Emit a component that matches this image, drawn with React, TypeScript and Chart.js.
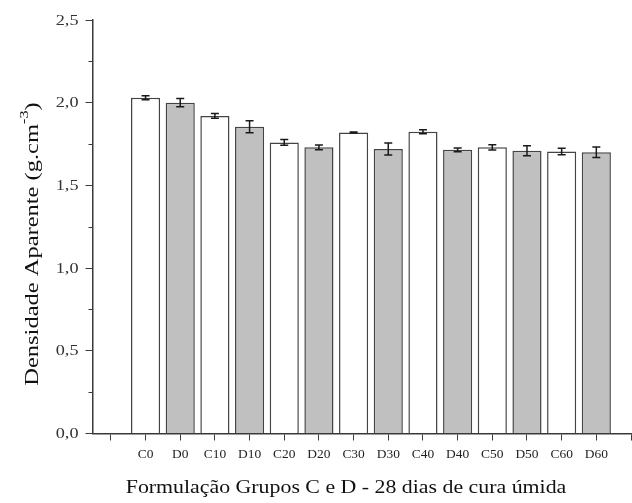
import React, { useEffect, useRef } from "react";
import { Chart, registerables } from "chart.js";

Chart.register(...registerables);

// Formulations (groups C and D), apparent density after 28 days of wet curing
const categories = ["C0", "D0", "C10", "D10", "C20", "D20", "C30", "D30", "C40", "D40", "C50", "D50", "C60", "D60"];
const density = [2.03, 2.0, 1.92, 1.855, 1.76, 1.73, 1.82, 1.72, 1.825, 1.715, 1.73, 1.71, 1.705, 1.7];
const densityError = [0.012, 0.025, 0.014, 0.036, 0.017, 0.014, 0.003, 0.036, 0.012, 0.011, 0.016, 0.03, 0.019, 0.032];
const yTicks = [0, 0.5, 1.0, 1.5, 2.0, 2.5];
const yMinorTicks = [0.25, 0.75, 1.25, 1.75, 2.25];

const AXIS_COLOR = "#3a3a3a";
const SERIF = "'Liberation Serif', 'Times New Roman', serif";

// Draw text stretched along its baseline
function wideText(ctx: CanvasRenderingContext2D, text: string, x: number, y: number, size: number, stretch: number, align: "left" | "center" | "right") {
  ctx.save();
  ctx.font = `${size}px ${SERIF}`;
  const w = ctx.measureText(text).width * stretch;
  let sx = x;
  if (align === "center") sx = x - w / 2;
  if (align === "right") sx = x - w;
  ctx.translate(sx, y);
  ctx.scale(stretch, 1);
  ctx.textAlign = "left";
  ctx.fillText(text, 0, 0);
  ctx.restore();
  return w;
}

const errorBarsPlugin = {
  id: "errorBars",
  afterDatasetsDraw(chart: any) {
    const meta = chart.getDatasetMeta(0);
    const y = chart.scales.y;
    const ctx = chart.ctx;
    ctx.save();
    ctx.strokeStyle = "#1a1a1a";
    ctx.lineWidth = 1.5;
    meta.data.forEach((bar: any, i: number) => {
      const top = y.getPixelForValue(density[i] + densityError[i]);
      const bot = y.getPixelForValue(density[i] - densityError[i]);
      const cx = bar.x;
      ctx.beginPath();
      ctx.moveTo(cx, top);
      ctx.lineTo(cx, bot);
      ctx.moveTo(cx - 4, top);
      ctx.lineTo(cx + 4, top);
      ctx.moveTo(cx - 4, bot);
      ctx.lineTo(cx + 4, bot);
      ctx.stroke();
    });
    ctx.restore();
  },
};

const axisDecorPlugin = {
  id: "axisDecor",
  afterDraw(chart: any) {
    const ctx = chart.ctx;
    const x = chart.scales.x;
    const y = chart.scales.y;
    const left = chart.chartArea.left;
    const bottom = chart.chartArea.bottom;
    ctx.save();
    // minor ticks on the value axis
    ctx.strokeStyle = AXIS_COLOR;
    ctx.lineWidth = 1;
    yMinorTicks.forEach((v) => {
      const py = Math.round(y.getPixelForValue(v)) + 0.5;
      ctx.beginPath();
      ctx.moveTo(left - 4, py);
      ctx.lineTo(left, py);
      ctx.stroke();
    });

    // value axis tick labels
    ctx.fillStyle = "#333";
    ctx.textBaseline = "middle";
    yTicks.forEach((v) => {
      const py = y.getPixelForValue(v) + 1;
      wideText(ctx, v.toFixed(1).replace(".", ","), left - 14, py, 14, 1.3, "right");
    });

    // category tick labels
    ctx.fillStyle = "#222";
    categories.forEach((c, i) => {
      wideText(ctx, c, x.getPixelForValue(i + 1), bottom + 21, 12, 1.12, "center");
    });

    // value axis title with superscript unit
    ctx.fillStyle = "#111";
    ctx.save();
    ctx.translate(33, 244);
    ctx.rotate(-Math.PI / 2);
    const stretch = 1.36;
    ctx.scale(stretch, 1);
    ctx.textBaseline = "middle";
    ctx.textAlign = "left";
    const main = "Densidade Aparente (g.cm";
    const sup = "-3";
    const close = ")";
    ctx.font = `18px ${SERIF}`;
    const w1 = ctx.measureText(main).width;
    const w3 = ctx.measureText(close).width;
    ctx.font = `12px ${SERIF}`;
    const w2 = ctx.measureText(sup).width;
    const start = -(w1 + w2 + w3) / 2;
    ctx.font = `18px ${SERIF}`;
    ctx.fillText(main, start, 0);
    ctx.font = `12px ${SERIF}`;
    ctx.fillText(sup, start + w1, -8);
    ctx.font = `18px ${SERIF}`;
    ctx.fillText(close, start + w1 + w2, 0);
    ctx.restore();

    // category axis title
    ctx.fillStyle = "#111";
    ctx.textBaseline = "middle";
    wideText(ctx, "Formulação Grupos C e D - 28 dias de cura úmida", 346, 488, 19, 1.15, "center");
    ctx.restore();
  },
};

export default function App() {
  const canvasRef = useRef<HTMLCanvasElement | null>(null);

  useEffect(() => {
    if (!canvasRef.current) return;
    const points = density.map((v, i) => ({ x: i + 1, y: v }));
    const chart = new Chart(canvasRef.current, {
      type: "bar",
      data: {
        datasets: [
          {
            data: points as any,
            backgroundColor: categories.map((c) => (c.startsWith("C") ? "#ffffff" : "#c0c0c0")),
            borderColor: "#444444",
            borderWidth: 1.5,
            barPercentage: 0.84,
            categoryPercentage: 1,
          },
        ],
      },
      options: {
        animation: false,
        responsive: true,
        maintainAspectRatio: false,
        layout: { padding: { top: 20, left: 0, right: 1, bottom: 0 } },
        plugins: {
          legend: { display: false },
          tooltip: { enabled: false },
        },
        scales: {
          x: {
            type: "linear",
            offset: false,
            min: -0.53,
            max: 15,
            afterBuildTicks: (scale: any) => {
              const t = [];
              for (let i = 0; i <= 15; i++) t.push({ value: i });
              scale.ticks = t;
            },
            afterFit: (scale: any) => {
              scale.height = 69.5;
              scale.paddingLeft = 0;
              scale.paddingRight = 0;
            },
            grid: {
              display: true,
              offset: false,
              drawOnChartArea: false,
              drawTicks: true,
              tickLength: 7,
              color: AXIS_COLOR,
              lineWidth: 1,
            },
            border: { display: true, color: AXIS_COLOR, width: 1.5 },
            ticks: {
              display: false,
            },
          },
          y: {
            min: 0,
            max: 2.5,
            afterBuildTicks: (scale: any) => {
              scale.ticks = yTicks.map((v) => ({ value: v }));
            },
            afterFit: (scale: any) => {
              scale.width = 92.5;
            },
            grid: {
              display: true,
              drawOnChartArea: false,
              drawTicks: true,
              tickLength: 7,
              color: AXIS_COLOR,
              lineWidth: 1,
            },
            border: { display: true, color: AXIS_COLOR, width: 1.5 },
            ticks: {
              display: false,
            },
          },
        },
      },
      plugins: [errorBarsPlugin, axisDecorPlugin],
    });
    return () => chart.destroy();
  }, []);

  return (
    <div style={{ position: "absolute", left: 0, top: 0, width: 632, height: 503, background: "#ffffff" }}>
      <canvas ref={canvasRef} />
    </div>
  );
}
